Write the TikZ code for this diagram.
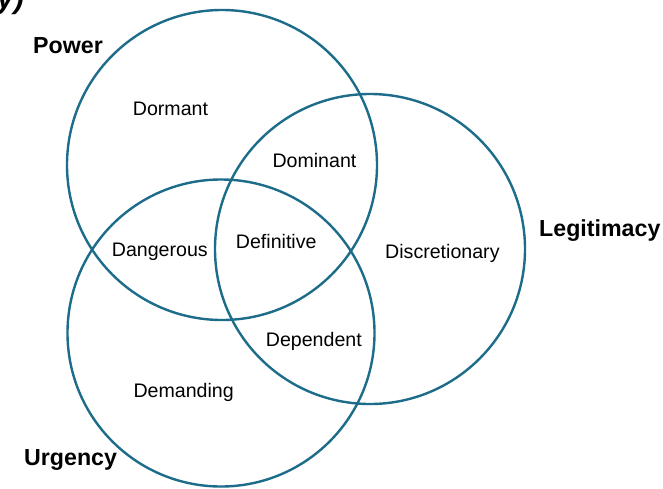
\documentclass[tikz,border=0pt]{standalone}
\usepackage{fontspec}
\setmainfont{Liberation Sans}
\definecolor{venn}{RGB}{28,108,138}
\begin{document}
\begin{tikzpicture}[x=1pt,y=-1pt,
  circ/.style={circle,draw=venn,line width=2.4pt,inner sep=0pt},
  lab/.style={font=\fontsize{19.6}{22}\selectfont,inner sep=0pt,anchor=base west},
  setlab/.style={font=\fontsize{23.2}{26}\selectfont\bfseries,inner sep=0pt,anchor=base west}]
\useasboundingbox (0,0) rectangle (663,488);
\clip (0,0) rectangle (663,488);
% circles
\node[circ,minimum size=310pt] (P) at (222,165) {};
\node[circ,minimum size=310pt] (L) at (370,249) {};
\node[circ,minimum size=307pt] (U) at (221,333) {};
% cut-off caption fragment
\node[font=\fontsize{30}{32}\selectfont\bfseries\itshape,inner sep=0pt,anchor=base east] (cap) at (24,8) {y)};
% set labels
\node[setlab] (power) at (33,53) {Power};
\node[setlab] (legit) at (539,236) {Legitimacy};
\node[setlab] (urg) at (24,465) {Urgency};
% region labels
\node[lab] (dormant) at (132.7,115.7) {Dormant};
\node[lab] (dominant) at (272.3,167.7) {Dominant};
\node[lab] (dangerous) at (111.7,256) {Dangerous};
\node[lab] (definitive) at (235.7,248.3) {Definitive};
\node[lab] (discr) at (385,258.3) {Discretionary};
\node[lab] (dependent) at (265.7,346) {Dependent};
\node[lab] (demanding) at (133.3,397.7) {Demanding};
\end{tikzpicture}
\end{document}
